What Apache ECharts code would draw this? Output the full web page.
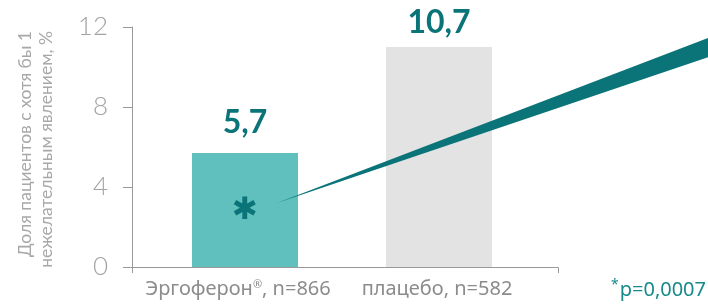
<!DOCTYPE html>
<html lang="ru">
<head>
	<meta charset="UTF-8">
	<title>Нежелательные явления</title>
	<style>html,body{margin:0;padding:0;background:#fff;}</style>
</head>
<body>
<div id="chart" style="width:708px;height:305px;"></div>
<script src="https://cdn.jsdelivr.net/npm/echarts@6/dist/echarts.min.js"></script>
<script>
// данные
var categories = ['Эргоферон®, n=866', 'плацебо, n=582'];
var barHeights = [5.7, 11.0];     // высота столбцов, как на рисунке
var valueLabels = [5.7, 10.7];    // подписи над столбцами
var yTicks = [0, 4, 8, 12];
var barColors = ['#5fc0bd', '#e3e3e3'];
var pText = 'p=0,0007';

var teal = '#0b7479';
var grey = '#999999';
var font = 'Lato, "Noto Sans", sans-serif';
var wide = '"Noto Sans", Lato, sans-serif';

var myChart = echarts.init(document.getElementById('chart'));

var option = {
	animation: false,
	grid: { left: 148, right: 172, top: 27, bottom: 38 },
	xAxis: {
		type: 'category',
		data: categories.map(function (c, i) {
			return { value: c, textStyle: { padding: i === 0 ? [0, 14, 0, 0] : [0, 4, 0, 0] } };
		}),
		axisLine: { show: false },
		axisTick: { show: false },
		axisLabel: {
			interval: 0,
			margin: 12,
			color: '#8c8c8c',
			fontSize: 20,
			fontFamily: wide,
			formatter: function (v) { return v.replace('®', '{sup|®}'); },
			rich: {
				sup: { fontSize: 11, fontFamily: wide, verticalAlign: 'top', padding: [0, 0, 10, 0], color: '#8c8c8c' }
			}
		}
	},
	yAxis: {
		type: 'value',
		min: yTicks[0],
		max: yTicks[yTicks.length - 1],
		interval: 4,
		offset: 16,
		axisLine: { show: true, lineStyle: { color: grey, width: 1 } },
		axisTick: { show: true, length: 9, lineStyle: { color: grey } },
		splitLine: { show: false },
		axisLabel: { margin: 24, color: '#a3a3a3', fontSize: 26, fontFamily: font, fontWeight: 300 }
	},
	series: [{
		type: 'bar',
		barWidth: 106,
		data: barHeights.map(function (v, i) {
			return { value: v, itemStyle: { color: barColors[i] } };
		}),
		z: 2
	}, {
		type: 'scatter',
		symbolSize: 0,
		itemStyle: { opacity: 1 },
		data: valueLabels,
		label: {
			show: true,
			position: 'top',
			distance: 14,
			color: teal,
			fontSize: 32,
			fontWeight: 'bold',
			fontFamily: font,
			formatter: function (p) { return String(p.value).replace('.', ','); }
		},
		z: 3
	}],
	graphic: [
		// ось X с выступом
		{ type: 'polyline', z: 5, shape: { points: [[123, 267.5], [558.5, 267.5], [558.5, 273]] },
		  style: { stroke: grey, lineWidth: 1, fill: null } },
		{ type: 'line', z: 5, shape: { x1: 132.5, y1: 267, x2: 132.5, y2: 273 },
		  style: { stroke: grey, lineWidth: 1 } },
		// стрелка-клин
		{ type: 'polygon', z: 10, shape: { points: [[277, 203], [716, 35], [716, 54.5]] },
		  style: { fill: teal } },
		// звёздочка
		{ type: 'text', z: 10, x: 245, y: 211,
		  style: { text: '✱', fill: teal, fontSize: 31, fontFamily: 'DejaVu Sans', align: 'center', verticalAlign: 'middle' } },
		// подпись оси Y
		{ type: 'text', z: 10, x: 36, y: 31, rotation: Math.PI / 2,
		  style: { text: 'Доля пациентов с хотя бы 1\nнежелательным явлением, %', fill: '#a8a8a8',
		           fontSize: 17.5, lineHeight: 21, fontFamily: font, align: 'right', verticalAlign: 'middle' } },
		// p
		{ type: 'text', z: 10, x: 706, y: 290,
		  style: { text: '{s|*}{p|' + pText + '}', align: 'right', verticalAlign: 'middle',
		           rich: {
		             s: { fontSize: 14, fill: '#178a8b', fontFamily: wide, verticalAlign: 'top', padding: [0, 1, 9, 0] },
		             p: { fontSize: 20, fill: '#178a8b', fontFamily: wide }
		           } } }
	]
};
myChart.setOption(option);
</script>
</body>
</html>
